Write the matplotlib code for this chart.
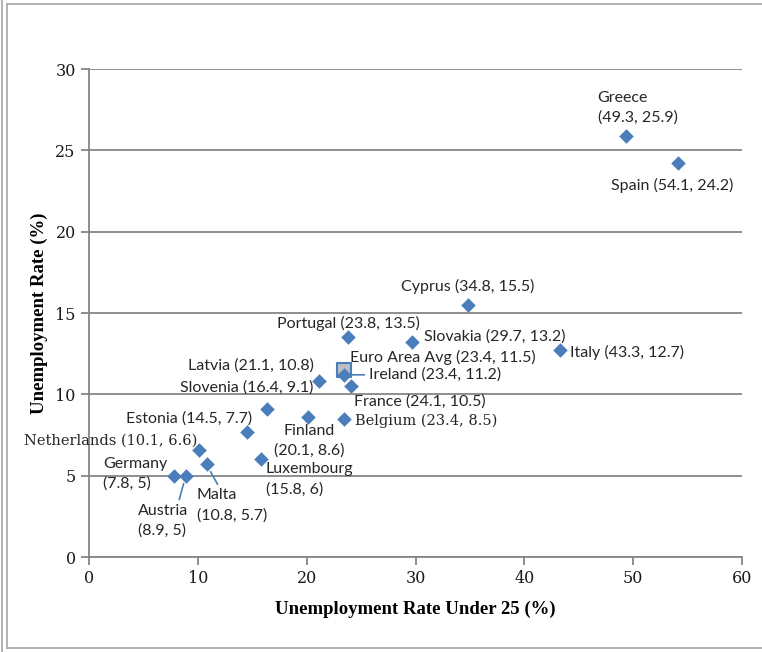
import matplotlib.pyplot as plt
from matplotlib.lines import Line2D

# Unemployment rates by euro area country
countries = ['Greece', 'Spain', 'Cyprus', 'Portugal', 'Slovakia', 'Italy',
             'Ireland', 'France', 'Belgium', 'Latvia', 'Slovenia', 'Estonia',
             'Finland', 'Netherlands', 'Luxembourg', 'Germany', 'Austria', 'Malta']
under25 = [49.3, 54.1, 34.8, 23.8, 29.7, 43.3, 23.4, 24.1, 23.4, 21.1, 16.4,
           14.5, 20.1, 10.1, 15.8, 7.8, 8.9, 10.8]
overall = [25.9, 24.2, 15.5, 13.5, 13.2, 12.7, 11.2, 10.5, 8.5, 10.8, 9.1,
           7.7, 8.6, 6.6, 6, 5, 5, 5.7]

avg_name = 'Euro Area Avg'
avg_under25 = 23.4
avg_overall = 11.5

# label placement: (dx px, dy px, ha, two lines?, font kind)
placement = {
    'Greece':      (-28, 28, 'left', True, 'sans'),
    'Spain':       (-6, -22, 'center', False, 'sans'),
    'Cyprus':      (0, 18, 'center', False, 'sans'),
    'Portugal':    (0, 14, 'center', False, 'sans'),
    'Slovakia':    (12, 6, 'left', False, 'sans'),
    'Italy':       (10, -2, 'left', False, 'sans'),
    'Ireland':     (25, 0, 'left', False, 'sans'),
    'France':      (3, -15, 'left', False, 'sans'),
    'Belgium':     (11, -2, 'left', False, 'serif'),
    'Latvia':      (-5, 16, 'right', False, 'sans'),
    'Slovenia':    (46, 21, 'right', False, 'sans'),
    'Estonia':     (-58, 13, 'center', False, 'sans'),
    'Finland':     (1, -24, 'center', True, 'sans'),
    'Netherlands': (-2, 9, 'right', False, 'serif'),
    'Luxembourg':  (5, -20, 'left', True, 'sans'),
    'Germany':     (-71, 2, 'left', True, 'sans'),
    'Austria':     (-48, -45, 'left', True, 'sans'),
    'Malta':       (-10, -41, 'left', True, 'sans'),
}
leaders = {'Ireland': (0, 0.5), 'Austria': (0.8, 1), 'Malta': (0.33, 1)}

blue = '#4a7ebb'
grey = '#868686'
sans = ['Lato', 'DejaVu Sans']
serif = ['DejaVu Serif']

fig = plt.figure(figsize=(7.62, 6.52), dpi=100)
ax = fig.add_axes([89 / 762, 1 - 557 / 652, (742 - 89) / 762, (557 - 69) / 652])

ax.scatter(under25, overall, marker='D', s=55, color=blue, zorder=3, linewidths=0)
ax.scatter([avg_under25], [avg_overall], marker='s', s=95, facecolor='#bfbfbf',
           edgecolor=blue, linewidths=1.5, zorder=2)

def fmt(v):
    return f'{v:g}'

for name, xv, yv in zip(countries, under25, overall):
    dx, dy, ha, two, kind = placement[name]
    sep = '\n' if two else ' '
    text = f'{name}{sep}({fmt(xv)}, {fmt(yv)})'
    kw = {}
    if name in leaders:
        kw['arrowprops'] = dict(arrowstyle='-', color=blue, lw=1.2,
                                shrinkA=1, shrinkB=6, relpos=leaders[name])
    ax.annotate(text, (xv, yv), xytext=(dx, dy), textcoords='offset pixels',
                ha=ha, va='center',
                fontsize=10.5 if kind == 'serif' else 11.5,
                family=serif if kind == 'serif' else sans,
                color='#262626', linespacing=1.5, zorder=4, **kw)

ax.annotate(f'{avg_name} ({fmt(avg_under25)}, {fmt(avg_overall)})',
            (avg_under25, avg_overall), xytext=(6, 12), textcoords='offset pixels',
            ha='left', va='center', fontsize=11.5, family=sans, color='#262626', zorder=4)

ax.set_xlim(0, 60)
ax.set_ylim(0, 30)
ax.set_xticks(range(0, 61, 10))
ax.set_yticks(range(0, 31, 5))
ax.yaxis.grid(True, color=grey, lw=1.3)
ax.set_axisbelow(True)
for side in ['top', 'right']:
    ax.spines[side].set_visible(False)
for side in ['left', 'bottom']:
    ax.spines[side].set_color(grey)
    ax.spines[side].set_linewidth(1.3)
ax.tick_params(color=grey, width=1.3, length=6, labelsize=11.5, labelcolor='#1a1a1a')
for lab in ax.get_xticklabels() + ax.get_yticklabels():
    lab.set_family(serif)

ax.set_xlabel('Unemployment Rate Under 25 (%)', family=['Liberation Serif'],
              fontweight='bold', fontsize=13.5, labelpad=10)
ax.set_ylabel('Unemployment Rate (%)', family=['Liberation Serif'],
              fontweight='bold', fontsize=13.5, labelpad=5)

# chart frame
fw, fh = 762, 652
for x0, y0, x1, y1 in [(7, 4, 7, 648), (7, 4, 770, 4), (7, 648, 770, 648), (2, 0, 2, 652)]:
    fig.add_artist(Line2D([x0 / fw, x1 / fw], [1 - y0 / fh, 1 - y1 / fh],
                          color='#a6a6a6', lw=1.2))

fig.savefig('out.png', dpi=100)
